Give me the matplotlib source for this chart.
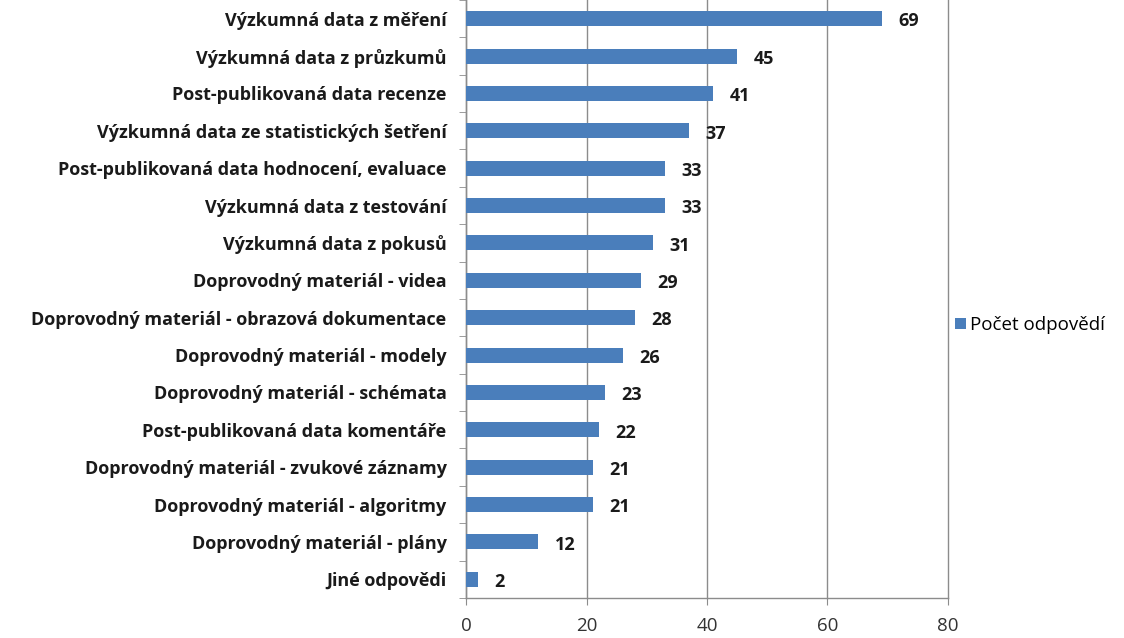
import matplotlib.pyplot as plt

# data (top to bottom as in the chart)
categories = [
    "Výzkumná data z měření",
    "Výzkumná data z průzkumů",
    "Post-publikovaná data recenze",
    "Výzkumná data ze statistických šetření",
    "Post-publikovaná data hodnocení, evaluace",
    "Výzkumná data z testování",
    "Výzkumná data z pokusů",
    "Doprovodný materiál - videa",
    "Doprovodný materiál - obrazová dokumentace",
    "Doprovodný materiál - modely",
    "Doprovodný materiál - schémata",
    "Post-publikovaná data komentáře",
    "Doprovodný materiál - zvukové záznamy",
    "Doprovodný materiál - algoritmy",
    "Doprovodný materiál - plány",
    "Jiné odpovědi",
]
values = [69, 45, 41, 37, 33, 33, 31, 29, 28, 26, 23, 22, 21, 21, 12, 2]
x_ticks = [0, 20, 40, 60, 80]
series_name = "Počet odpovědí"

BAR_COLOR = "#4a7ebb"
GRID_COLOR = "#8c8c8c"

plt.rcParams["font.family"] = ["Open Sans", "DejaVu Sans"]

fig = plt.figure(figsize=(11.24, 6.38), dpi=100)
ax = fig.add_axes([0.4146, 0.0627, 0.4288, 0.9373])

n = len(categories)
ypos = list(range(n))
bars = ax.barh(ypos, values, height=0.4, color=BAR_COLOR, label=series_name, zorder=3)
ax.set_ylim(n - 0.5, -0.5)
ax.set_xlim(0, 80)

# value labels
for y, v in zip(ypos, values):
    ax.annotate(str(v), xy=(v, y), xytext=(12, -2), textcoords="offset points",
                ha="left", va="center", fontsize=13, fontweight="bold", color="#1a1a1a")

ax.set_yticks(ypos)
ax.set_yticklabels(categories, fontsize=13, fontweight="bold", color="#1a1a1a")
ax.set_yticks([i - 0.5 for i in range(n + 1)], minor=True)
ax.tick_params(axis="y", which="major", length=0, pad=14)
ax.tick_params(axis="y", which="minor", length=5, color=GRID_COLOR, direction="out")

ax.set_xticks(x_ticks)
ax.set_xticklabels([str(t) for t in x_ticks], fontsize=13.5, color="#333333")
ax.tick_params(axis="x", length=5, color=GRID_COLOR, pad=9)
ax.xaxis.grid(True, color=GRID_COLOR, linewidth=1.0, zorder=0)
for gl in ax.get_xgridlines():
    gl.set_clip_on(False)

for side in ["top", "right"]:
    ax.spines[side].set_visible(False)
for side in ["left", "bottom"]:
    ax.spines[side].set_color(GRID_COLOR)
    ax.spines[side].set_linewidth(1.0)

fig.legend(handles=[bars], labels=[series_name], loc="center left",
           bbox_to_anchor=(0.835, 0.49), frameon=False, fontsize=13.5,
           handlelength=0.55, handleheight=0.55, handletextpad=0.25)

fig.savefig("out.png", dpi=100)
